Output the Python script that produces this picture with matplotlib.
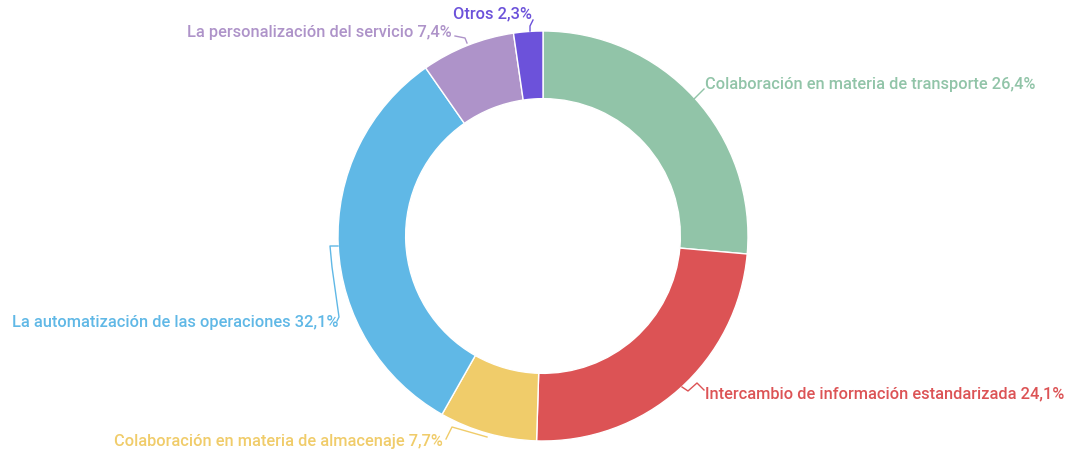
import matplotlib.pyplot as plt

# Data
labels = ["Colaboración en materia de transporte", "Intercambio de información estandarizada",
          "Colaboración en materia de almacenaje", "La automatización de las operaciones",
          "La personalización del servicio", "Otros"]
values = [26.4, 24.1, 7.7, 32.1, 7.4, 2.3]
colors = ["#91c4a8", "#dc5355", "#f0cc6a", "#60b8e6", "#ae93c9", "#6c52da"]

# label placement (pixel coords, y from top), alignment and leader line points
label_pos = [(705, 85, "left"), (705, 394, "left"), (443, 442, "right"),
             (338, 323, "right"), (452, 33, "right"), (532, 14, "right")]
leaders = [
    [(694, 100), (704, 90)],
    [(682, 388), (688, 392), (697, 384), (704, 391)],
    [(487, 438), (452, 428), (446, 440)],
    [(338, 247), (330, 247), (332, 268), (339, 318), (337, 322)],
    [(467, 44), (465, 39), (455, 37)],
    [(530, 32), (530, 27), (533, 21)],
]

W, H = 1067, 452
fig = plt.figure(figsize=(W / 100, H / 100), dpi=100)
ax = fig.add_axes([0, 0, 1, 1])

cx, cy, r = 543, H - 237, 205
ax.pie(values, colors=colors, startangle=90, counterclock=False,
       center=(cx, cy), radius=r, frame=True,
       wedgeprops=dict(width=r * 0.33, edgecolor="white", linewidth=1))

for lab, val, col, (x, y, ha), pts in zip(labels, values, colors, label_pos, leaders):
    xs = [p[0] for p in pts]
    ys = [H - p[1] for p in pts]
    ax.plot(xs, ys, color=col, lw=1)
    txt = f"{lab} {val:.1f}%".replace(".", ",")
    ax.text(x, H - y, txt, color=col, ha=ha, va="center", fontsize=11.75,
            family="Roboto", fontweight="medium")

ax.set_xlim(0, W)
ax.set_ylim(0, H)
ax.set_aspect("equal")
ax.axis("off")

fig.savefig("out.png", dpi=100)
